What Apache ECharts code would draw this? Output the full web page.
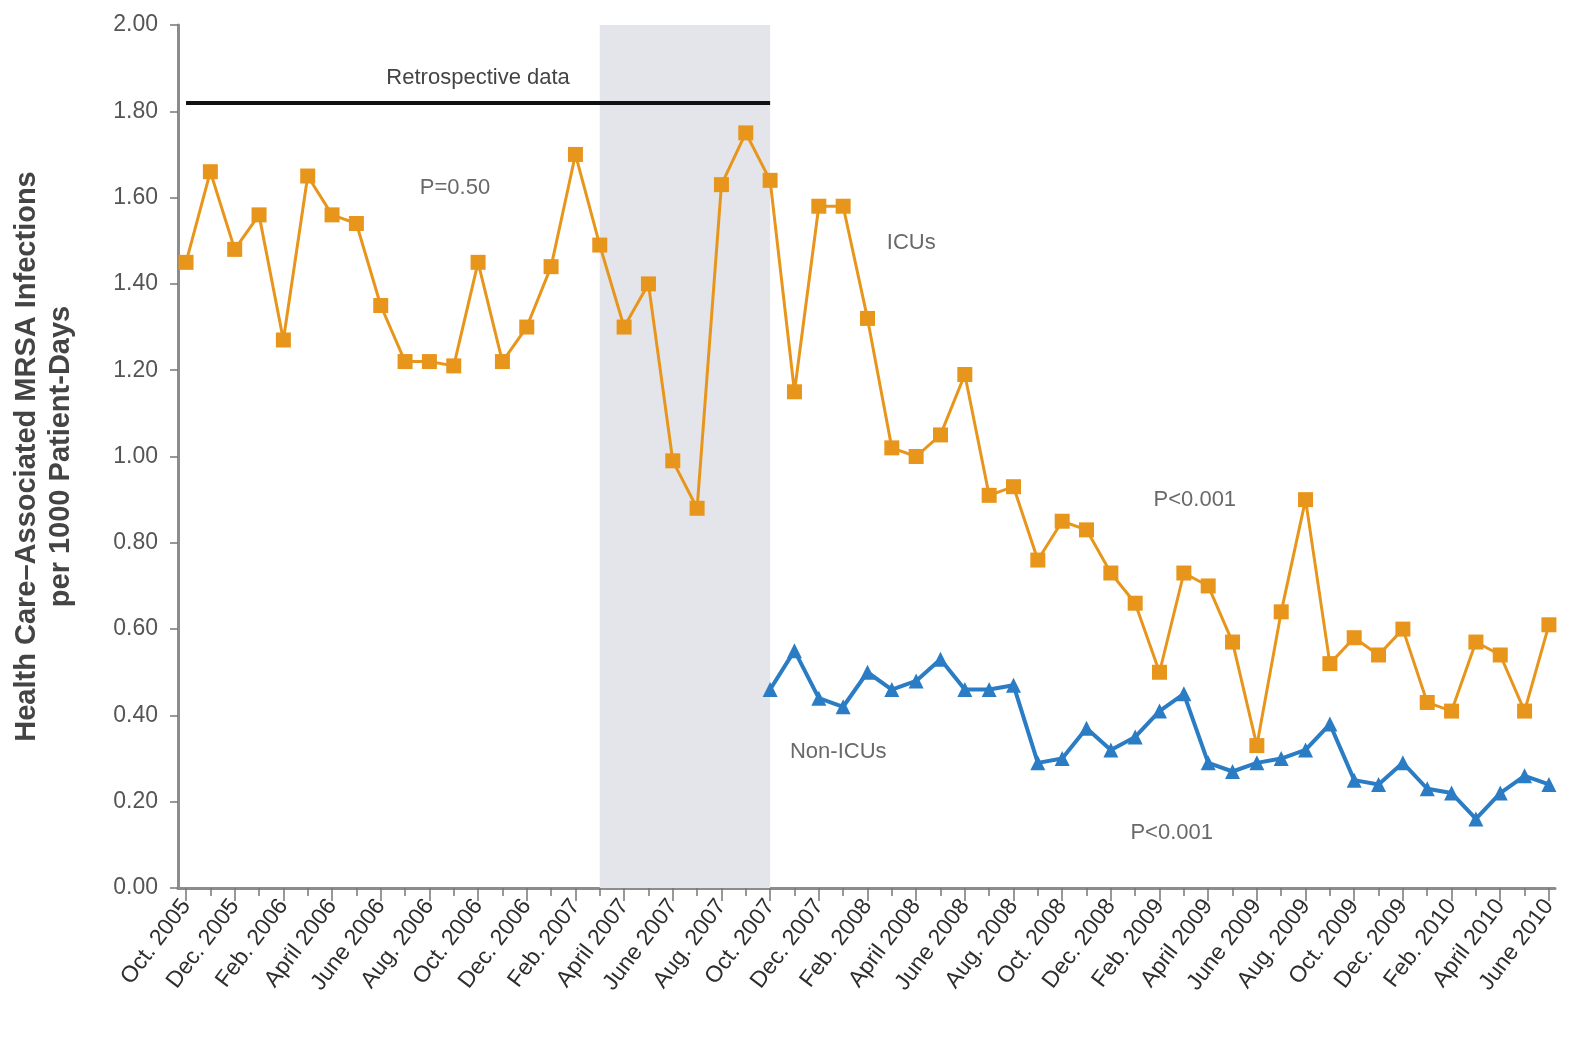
<!DOCTYPE html>
<html>
<head>
<meta charset="utf-8">
<script src="https://cdn.jsdelivr.net/npm/echarts@6/dist/echarts.min.js"></script>
<style>
html,body{margin:0;padding:0;background:#fff;}
#c{width:1570px;height:1037px;}
</style>
</head>
<body>
<div id="c"></div>
<script>
const months = [
 'Oct. 2005','Nov. 2005','Dec. 2005','Jan. 2006','Feb. 2006','Mar. 2006','April 2006','May 2006','June 2006','July 2006','Aug. 2006','Sept. 2006',
 'Oct. 2006','Nov. 2006','Dec. 2006','Jan. 2007','Feb. 2007','Mar. 2007','April 2007','May 2007','June 2007','July 2007','Aug. 2007','Sept. 2007',
 'Oct. 2007','Nov. 2007','Dec. 2007','Jan. 2008','Feb. 2008','Mar. 2008','April 2008','May 2008','June 2008','July 2008','Aug. 2008','Sept. 2008',
 'Oct. 2008','Nov. 2008','Dec. 2008','Jan. 2009','Feb. 2009','Mar. 2009','April 2009','May 2009','June 2009','July 2009','Aug. 2009','Sept. 2009',
 'Oct. 2009','Nov. 2009','Dec. 2009','Jan. 2010','Feb. 2010','Mar. 2010','April 2010','May 2010','June 2010'
];
const icu = [
 1.45,1.66,1.48,1.56,1.27,1.65,1.56,1.54,1.35,1.22,1.22,1.21,
 1.45,1.22,1.30,1.44,1.70,1.49,1.30,1.40,0.99,0.88,1.63,1.75,
 1.64,1.15,1.58,1.58,1.32,1.02,1.00,1.05,1.19,0.91,0.93,0.76,
 0.85,0.83,0.73,0.66,0.50,0.73,0.70,0.57,0.33,0.64,0.90,0.52,
 0.58,0.54,0.60,0.43,0.41,0.57,0.54,0.41,0.61
];
const nonIcu = [
 null,null,null,null,null,null,null,null,null,null,null,null,
 null,null,null,null,null,null,null,null,null,null,null,null,
 0.46,0.55,0.44,0.42,0.50,0.46,0.48,0.53,0.46,0.46,0.47,0.29,
 0.30,0.37,0.32,0.35,0.41,0.45,0.29,0.27,0.29,0.30,0.32,0.38,
 0.25,0.24,0.29,0.23,0.22,0.16,0.22,0.26,0.24
];
const retroStart = 'Oct. 2005', retroEnd = 'Oct. 2007', retroLevel = 1.82;
const shadeStart = 'Mar. 2007', shadeEnd = 'Oct. 2007';
const notes = [
 {text:'P=0.50', month:11.05, value:1.622},
 {text:'ICUs', month:29.8, value:1.495},
 {text:'P<0.001', month:41.45, value:0.899},
 {text:'Non-ICUs', month:26.8, value:0.315},
 {text:'P<0.001', month:40.5, value:0.127}
];

const FONT = "'Liberation Sans', 'Noto Sans', sans-serif";
const idx = m => months.indexOf(m);
const even = months.map((m,i)=>i).filter(i=>i%2===0);
const odd = months.map((m,i)=>i).filter(i=>i%2===1);

const chart = echarts.init(document.getElementById('c'));
chart.setOption({
  backgroundColor:'#ffffff',
  animation:false,
  grid:{left:178, right:15, top:25, bottom:149, containLabel:false},
  xAxis:[{
    type:'value', min:-0.33, max:56.25,
    axisLine:{show:true, onZero:false, lineStyle:{color:'#8c8c8c', width:3}},
    splitLine:{show:false},
    axisTick:{show:true, customValues:even, length:13, lineStyle:{color:'#777', width:1.5}},
    axisLabel:{show:true, customValues:even, formatter:v=>months[Math.round(v)], rotate:53,
      fontFamily:FONT, fontSize:23, color:'#2e2e2e', margin:14}
  },{
    type:'value', min:-0.33, max:56.25, position:'bottom',
    axisLine:{show:false, onZero:false}, splitLine:{show:false},
    axisTick:{show:true, customValues:odd, length:8, lineStyle:{color:'#777', width:1.5}},
    axisLabel:{show:false}
  }],
  yAxis:{
    type:'value', min:0, max:2, interval:0.2,
    axisLine:{show:true, onZero:false, lineStyle:{color:'#8c8c8c', width:3}},
    splitLine:{show:false},
    axisTick:{show:true, length:8, lineStyle:{color:'#777', width:1.5}},
    axisLabel:{formatter:v=>v.toFixed(2), fontFamily:FONT, fontSize:23, color:'#555', margin:20},
    name:'Health Care\u2013Associated MRSA Infections\nper 1000 Patient-Days',
    nameLocation:'middle', nameGap:100, nameRotate:90,
    nameTextStyle:{fontFamily:FONT, fontSize:29, fontWeight:'bold', color:'#444', lineHeight:34, align:'center'}
  },
  series:[{
    name:'ICUs', type:'line', data:icu.map((v,i)=>[i,v]),
    symbol:'rect', symbolSize:15, showSymbol:true,
    lineStyle:{color:'#e8951c', width:3}, itemStyle:{color:'#e8951c'}, z:3,
    markArea:{silent:true, itemStyle:{color:'#e4e5eb'},
      data:[[{xAxis:idx(shadeStart)},{xAxis:idx(shadeEnd)}]]},
    markLine:{silent:true, symbol:['none','none'],
      lineStyle:{color:'#111', width:4, type:'solid'},
      label:{show:true, position:'insideMiddleTop', distance:14, formatter:'Retrospective data',
        fontFamily:FONT, fontSize:22, color:'#444'},
      data:[[{coord:[idx(retroStart), retroLevel]},{coord:[idx(retroEnd), retroLevel]}]]}
  },{
    name:'Non-ICUs', type:'line', data:nonIcu.map((v,i)=>[i, v===null?'-':v]),
    symbol:'triangle', symbolSize:15, showSymbol:true,
    lineStyle:{color:'#2a7cc4', width:4}, itemStyle:{color:'#2a7cc4'}, z:4
  },{
    name:'notes', type:'scatter', symbolSize:0, silent:true,
    data:notes.map(n=>[n.month, n.value, n.text]),
    label:{show:true, position:'inside', formatter:p=>p.data[2], fontFamily:FONT, fontSize:22, color:'#444'}
  }]
});
</script>
</body>
</html>
